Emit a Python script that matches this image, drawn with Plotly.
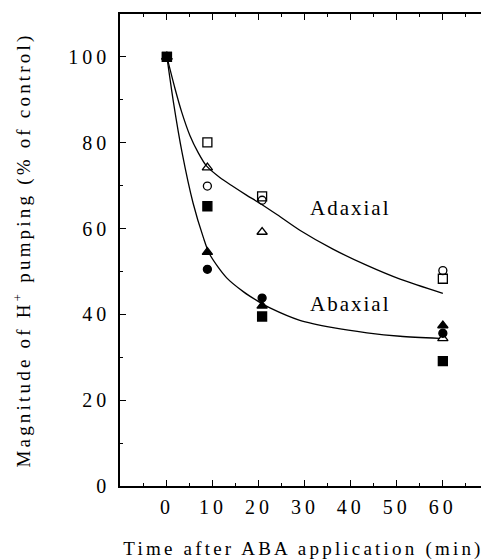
import plotly.graph_objects as go

# Measured data (time in min, % of control)
t_pts = [0, 8.8, 20.7, 60]

ad_open_square = [100, 80.1, 67.5, 48.3]
ad_open_triangle = [100, 74.2, 59.2, 34.4]
ad_open_circle = [100, 69.9, 66.6, 50.2]

ab_filled_square = [100, 65.2, 39.5, 29.1]
ab_filled_triangle = [100, 54.5, 42.0, 37.4]
ab_filled_circle = [100, 50.5, 43.8, 35.6]

# Fitted curves
ad_curve_t = [0, 1.74, 3.2, 5.0, 6.8, 8.6, 11.5, 14.4, 17.3, 20.2, 24, 28.9, 36.1, 43.5, 50.7, 60]
ad_curve_v = [100, 92.7, 87.2, 81.7, 77.7, 74.6, 71.9, 69.8, 67.8, 65.9, 63.2, 59.6, 55.2, 51.4, 48.2, 44.9]
ab_curve_t = [0, 1.4, 3.3, 5.7, 7.9, 9.3, 13, 16.6, 20.2, 22.4, 28.9, 36.1, 43.5, 50.7, 59.3]
ab_curve_v = [100, 89.6, 77.7, 65.9, 58, 54, 48.5, 45.3, 42.8, 41.5, 38.6, 36.9, 35.7, 34.9, 34.4]

x_ticks = [0, 10, 20, 30, 40, 50, 60]
y_ticks = [0, 20, 40, 60, 80, 100]

FONT = "Liberation Serif"

fig = go.Figure()

fig.add_trace(go.Scatter(x=ad_curve_t, y=ad_curve_v, mode="lines", line=dict(color="black", width=1.3, shape="spline", smoothing=0.8), showlegend=False, hoverinfo="skip"))
fig.add_trace(go.Scatter(x=ab_curve_t, y=ab_curve_v, mode="lines", line=dict(color="black", width=1.3, shape="spline", smoothing=0.8), showlegend=False, hoverinfo="skip"))

def add_pts(vals, symbol, size):
    fig.add_trace(go.Scatter(x=t_pts, y=vals, mode="markers",
                             marker=dict(symbol=symbol, size=size, color="black",
                                         line=dict(color="black", width=1.3)),
                             showlegend=False))

add_pts(ab_filled_triangle, "triangle-up", 9)
add_pts(ab_filled_circle, "circle", 8)
add_pts(ad_open_circle, "circle-open", 8)
add_pts(ad_open_triangle, "triangle-up-open", 9)
add_pts(ad_open_square, "square-open", 9)
add_pts(ab_filled_square, "square", 9)

fig.add_annotation(x=40, y=64.9, text="Adaxial", showarrow=False, font=dict(family=FONT, size=21, color="black"))
fig.add_annotation(x=40, y=42.4, text="Abaxial", showarrow=False, font=dict(family=FONT, size=21, color="black"))

# page body has an 8px margin, so the figure is sized to fill the rest of the window
fig.update_layout(
    width=481, height=552,
    margin=dict(l=112, r=2, t=6, b=74),
    paper_bgcolor="white", plot_bgcolor="white",
    font=dict(family=FONT, size=19, color="black"),
)

fig.update_xaxes(
    range=[-10.2, 69.6], tickmode="array", tickvals=x_ticks, ticktext=[str(v) for v in x_ticks],
    ticks="inside", ticklen=6, tickwidth=1.2, tickcolor="black", ticklabelstandoff=2,
    minor=dict(ticks="inside", ticklen=3, dtick=5, tick0=0, tickcolor="black", showgrid=False),
    showline=True, linecolor="black", linewidth=1.5, mirror="allticks",
    showgrid=False, zeroline=False, automargin=False,
    title=dict(text="Time after ABA application (min)", standoff=29, font=dict(family=FONT, size=19)),
    tickfont=dict(family=FONT, size=20),
)
fig.update_yaxes(
    range=[0, 110], tickmode="array", tickvals=y_ticks, ticktext=[str(v) for v in y_ticks],
    ticks="inside", ticklen=6, tickwidth=1.2, tickcolor="black", ticklabelstandoff=4,
    minor=dict(ticks="inside", ticklen=3, dtick=10, tick0=0, tickcolor="black", showgrid=False),
    showline=True, linecolor="black", linewidth=1.5, mirror="allticks",
    showgrid=False, zeroline=False, automargin=False,
    title=dict(text="Magnitude of H<sup>+</sup> pumping (% of control)", standoff=45, font=dict(family=FONT, size=19)),
    tickfont=dict(family=FONT, size=20),
)

post = """
var gd = document.getElementById('{plot_id}');
function sp(){
  gd.querySelectorAll('.xtick text, .ytick text').forEach(function(t){ t.style.letterSpacing = '4px'; });
  gd.querySelectorAll('.g-xtitle text, .g-ytitle text').forEach(function(t){ t.style.letterSpacing = '3.2px'; });
  gd.querySelectorAll('.annotation-text').forEach(function(t){ t.style.letterSpacing = '2px'; });
}
sp();
gd.on('plotly_afterplot', sp);
"""

fig.write_html("out.html", post_script=post)
